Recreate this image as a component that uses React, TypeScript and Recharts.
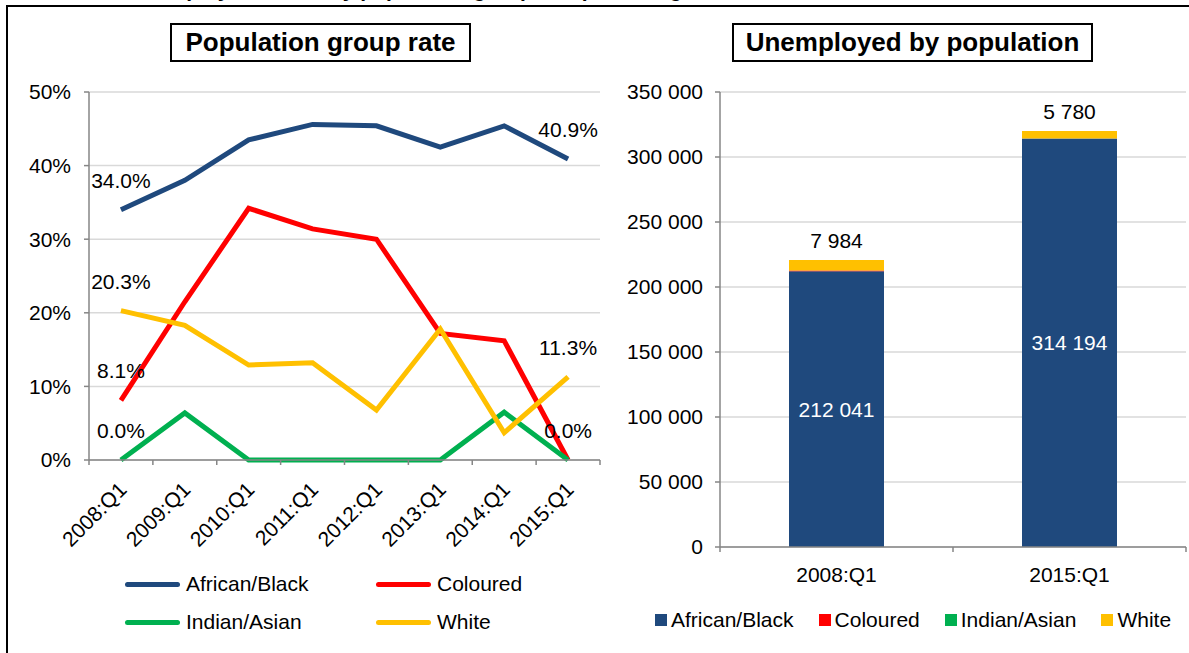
import React from 'react';
import {
  LineChart,
  Line,
  BarChart,
  Bar,
  XAxis,
  YAxis,
  CartesianGrid,
  LabelList,
  Legend,
} from 'recharts';

const quarters = ['2008:Q1', '2009:Q1', '2010:Q1', '2011:Q1', '2012:Q1', '2013:Q1', '2014:Q1', '2015:Q1'];
const africanBlackRate = [34.0, 38.0, 43.5, 45.6, 45.4, 42.5, 45.4, 40.9];
const colouredRate = [8.1, 21.5, 34.2, 31.4, 30.0, 17.2, 16.2, 0.0];
const indianAsianRate = [0.0, 6.4, 0.0, 0.0, 0.0, 0.0, 6.5, 0.0];
const whiteRate = [20.3, 18.3, 12.9, 13.2, 6.8, 17.8, 3.7, 11.3];
const rateTicks = [0, 10, 20, 30, 40, 50];

const barQuarters = ['2008:Q1', '2015:Q1'];
const africanBlackUnemployed = [212041, 314194];
const colouredUnemployed = [700, 0];
const indianAsianUnemployed = [0, 0];
const whiteUnemployed = [7984, 5780];
const countTicks = [0, 50000, 100000, 150000, 200000, 250000, 300000, 350000];

const C_AFRICAN = '#1F497D';
const C_COLOURED = '#FF0000';
const C_INDIAN = '#00B050';
const C_WHITE = '#FFC000';
const AXIS = '#868686';
const GRID = '#d9d9d9';
const FONT = '"Liberation Sans", Arial, sans-serif';

// plot widths, used for the boundary tick marks
const LINE_STEP = 511 / quarters.length;
const BAR_STEP = 466 / barQuarters.length;

// value labels only on the first and last quarter
const edgeLabel = (vals: number[], i: number, idx = [0, vals.length - 1]) =>
  idx.includes(i) ? `${vals[i].toFixed(1)}%` : undefined;

const rateData = quarters.map((q, i) => ({
  quarter: q,
  african: africanBlackRate[i],
  africanLabel: edgeLabel(africanBlackRate, i),
  coloured: colouredRate[i],
  colouredLabel: edgeLabel(colouredRate, i),
  indian: indianAsianRate[i],
  // last indian label sits exactly under the coloured one
  indianLabel: edgeLabel(indianAsianRate, i, [0]),
  white: whiteRate[i],
  whiteLabel: edgeLabel(whiteRate, i),
}));

const unemployedData = barQuarters.map((q, i) => ({
  quarter: q,
  african: africanBlackUnemployed[i],
  coloured: colouredUnemployed[i],
  indian: indianAsianUnemployed[i],
  white: whiteUnemployed[i],
}));

const spaced = (v: any) => String(Math.round(Number(v))).replace(/\B(?=(\d{3})+(?!\d))/g, ' ');

function RateTick(props: any) {
  const { x, y, payload, index } = props;
  const last = index === quarters.length - 1;
  const ax = x + 7;
  const ay = y + 31;
  return (
    <g>
      <line x1={x - LINE_STEP / 2} x2={x - LINE_STEP / 2} y1={y} y2={y + 5} stroke={AXIS} strokeWidth={1.5} />
      {last && <line x1={x + LINE_STEP / 2} x2={x + LINE_STEP / 2} y1={y} y2={y + 5} stroke={AXIS} strokeWidth={1.5} />}
      <text x={ax} y={ay} transform={`rotate(-45 ${ax} ${ay})`} textAnchor="end" fontSize={21} fill="#000">
        {payload.value}
      </text>
    </g>
  );
}

function BarTick(props: any) {
  const { x, y, payload, index } = props;
  const last = index === barQuarters.length - 1;
  return (
    <g>
      <line x1={x - BAR_STEP / 2} x2={x - BAR_STEP / 2} y1={y} y2={y + 5} stroke={AXIS} strokeWidth={1.5} />
      {last && <line x1={x + BAR_STEP / 2} x2={x + BAR_STEP / 2} y1={y} y2={y + 5} stroke={AXIS} strokeWidth={1.5} />}
      <text x={x} y={y + 35} textAnchor="middle" fontSize={21} fill="#000">
        {payload.value}
      </text>
    </g>
  );
}

function RateLegend(props: any) {
  const items = props.payload || [];
  return (
    <div style={{ display: 'grid', gridTemplateColumns: '251px 190px', gridAutoRows: '38px', fontSize: 21, color: '#000' }}>
      {items.map((it: any) => (
        <div key={it.value} style={{ display: 'flex', alignItems: 'center' }}>
          <span style={{ display: 'inline-block', width: 55, height: 5, borderRadius: 3, background: it.color, marginRight: 6 }} />
          <span>{it.value}</span>
        </div>
      ))}
    </div>
  );
}

function CountLegend(props: any) {
  const items = props.payload || [];
  return (
    <div style={{ display: 'flex', alignItems: 'center', fontSize: 21, color: '#000', whiteSpace: 'nowrap' }}>
      {items.map((it: any) => (
        <div key={it.value} style={{ display: 'flex', alignItems: 'center', marginRight: 25 }}>
          <span style={{ display: 'inline-block', width: 12, height: 12, background: it.color, marginRight: 4 }} />
          <span>{it.value}</span>
        </div>
      ))}
    </div>
  );
}

const titleBox: React.CSSProperties = {
  position: 'absolute',
  top: 23,
  height: 39,
  boxSizing: 'border-box',
  border: '2px solid #000',
  fontWeight: 'bold',
  fontSize: 26,
  lineHeight: '35px',
  textAlign: 'center',
  background: '#fff',
};

export default function App() {
  return (
    <div
      style={{
        position: 'absolute',
        left: 0,
        top: 0,
        width: 1189,
        height: 653,
        overflow: 'hidden',
        background: '#fff',
        fontFamily: FONT,
      }}
    >
      <svg width={1189} height={8} style={{ position: 'absolute', left: 0, top: 0, overflow: 'hidden' }}>
        <text x={128} y={-3} fontSize={21} fontWeight="bold" fill="#000">
          Unemployment rate by population group and percentage, 2008–2015
        </text>
      </svg>
      <div
        style={{
          position: 'absolute',
          left: 6,
          top: 5,
          width: 1200,
          height: 700,
          borderTop: '2px solid #000',
          borderLeft: '2px solid #000',
        }}
      />

      <div style={{ position: 'absolute', left: 0, top: 0 }}>
        <LineChart width={610} height={653} data={rateData} margin={{ top: 92, right: 10, bottom: 103, left: 0 }}>
          <CartesianGrid vertical={false} stroke={GRID} strokeWidth={1.5} />
          <XAxis
            dataKey="quarter"
            interval={0}
            padding={{ left: LINE_STEP / 2, right: LINE_STEP / 2 }}
            height={90}
            tickSize={0}
            tickMargin={0}
            tickLine={false}
            axisLine={{ stroke: AXIS, strokeWidth: 1.5 }}
            tick={<RateTick />}
          />
          <YAxis
            width={89}
            domain={[0, 50]}
            ticks={rateTicks}
            tickFormatter={(v) => `${v}%`}
            tickSize={5}
            tickMargin={13}
            axisLine={{ stroke: AXIS, strokeWidth: 1.5 }}
            tickLine={{ stroke: AXIS, strokeWidth: 1.5 }}
            tick={{ fill: '#000', fontSize: 21 }}
          />
          <Legend
            layout="horizontal"
            verticalAlign="middle"
            align="center"
            content={<RateLegend />}
            wrapperStyle={{ left: 125, top: 565, width: 460, height: 80 }}
          />
          <Line dataKey="african" name="African/Black" stroke={C_AFRICAN} strokeWidth={5} dot={false} activeDot={false} isAnimationActive={false}>
            <LabelList dataKey="africanLabel" position="top" offset={22} fill="#000" fontSize={21} />
          </Line>
          <Line dataKey="coloured" name="Coloured" stroke={C_COLOURED} strokeWidth={5} dot={false} activeDot={false} isAnimationActive={false}>
            <LabelList dataKey="colouredLabel" position="top" offset={22} fill="#000" fontSize={21} />
          </Line>
          <Line dataKey="indian" name="Indian/Asian" stroke={C_INDIAN} strokeWidth={5} dot={false} activeDot={false} isAnimationActive={false}>
            <LabelList dataKey="indianLabel" position="top" offset={22} fill="#000" fontSize={21} />
          </Line>
          <Line dataKey="white" name="White" stroke={C_WHITE} strokeWidth={5} dot={false} activeDot={false} isAnimationActive={false}>
            <LabelList dataKey="whiteLabel" position="top" offset={22} fill="#000" fontSize={21} />
          </Line>
        </LineChart>
      </div>

      <div style={{ position: 'absolute', left: 600, top: 0 }}>
        <BarChart width={589} height={653} data={unemployedData} margin={{ top: 92, right: 3, bottom: 66, left: 0 }}>
          <CartesianGrid vertical={false} stroke={GRID} strokeWidth={1.5} />
          <XAxis
            dataKey="quarter"
            interval={0}
            height={40}
            tickSize={0}
            tickMargin={0}
            tickLine={false}
            axisLine={{ stroke: AXIS, strokeWidth: 1.5 }}
            tick={<BarTick />}
          />
          <YAxis
            width={120}
            domain={[0, 350000]}
            ticks={countTicks}
            tickFormatter={spaced}
            tickSize={5}
            tickMargin={12}
            axisLine={{ stroke: AXIS, strokeWidth: 1.5 }}
            tickLine={{ stroke: AXIS, strokeWidth: 1.5 }}
            tick={{ fill: '#000', fontSize: 21 }}
          />
          <Legend
            layout="horizontal"
            verticalAlign="middle"
            align="center"
            content={<CountLegend />}
            wrapperStyle={{ left: 55, top: 608, width: 560, height: 38 }}
          />
          <Bar dataKey="african" name="African/Black" stackId="u" fill={C_AFRICAN} barSize={95} isAnimationActive={false}>
            <LabelList dataKey="african" position="center" formatter={spaced} fill="#fff" fontSize={21} />
          </Bar>
          <Bar dataKey="coloured" name="Coloured" stackId="u" fill={C_COLOURED} barSize={95} isAnimationActive={false} />
          <Bar dataKey="indian" name="Indian/Asian" stackId="u" fill={C_INDIAN} barSize={95} isAnimationActive={false} />
          <Bar dataKey="white" name="White" stackId="u" fill={C_WHITE} barSize={95} isAnimationActive={false}>
            <LabelList dataKey="white" position="top" offset={12} formatter={spaced} fill="#000" fontSize={21} />
          </Bar>
        </BarChart>
      </div>

      <div style={{ ...titleBox, left: 170, width: 301 }}>Population group rate</div>
      <div style={{ ...titleBox, left: 732, width: 361 }}>Unemployed by population</div>
    </div>
  );
}
